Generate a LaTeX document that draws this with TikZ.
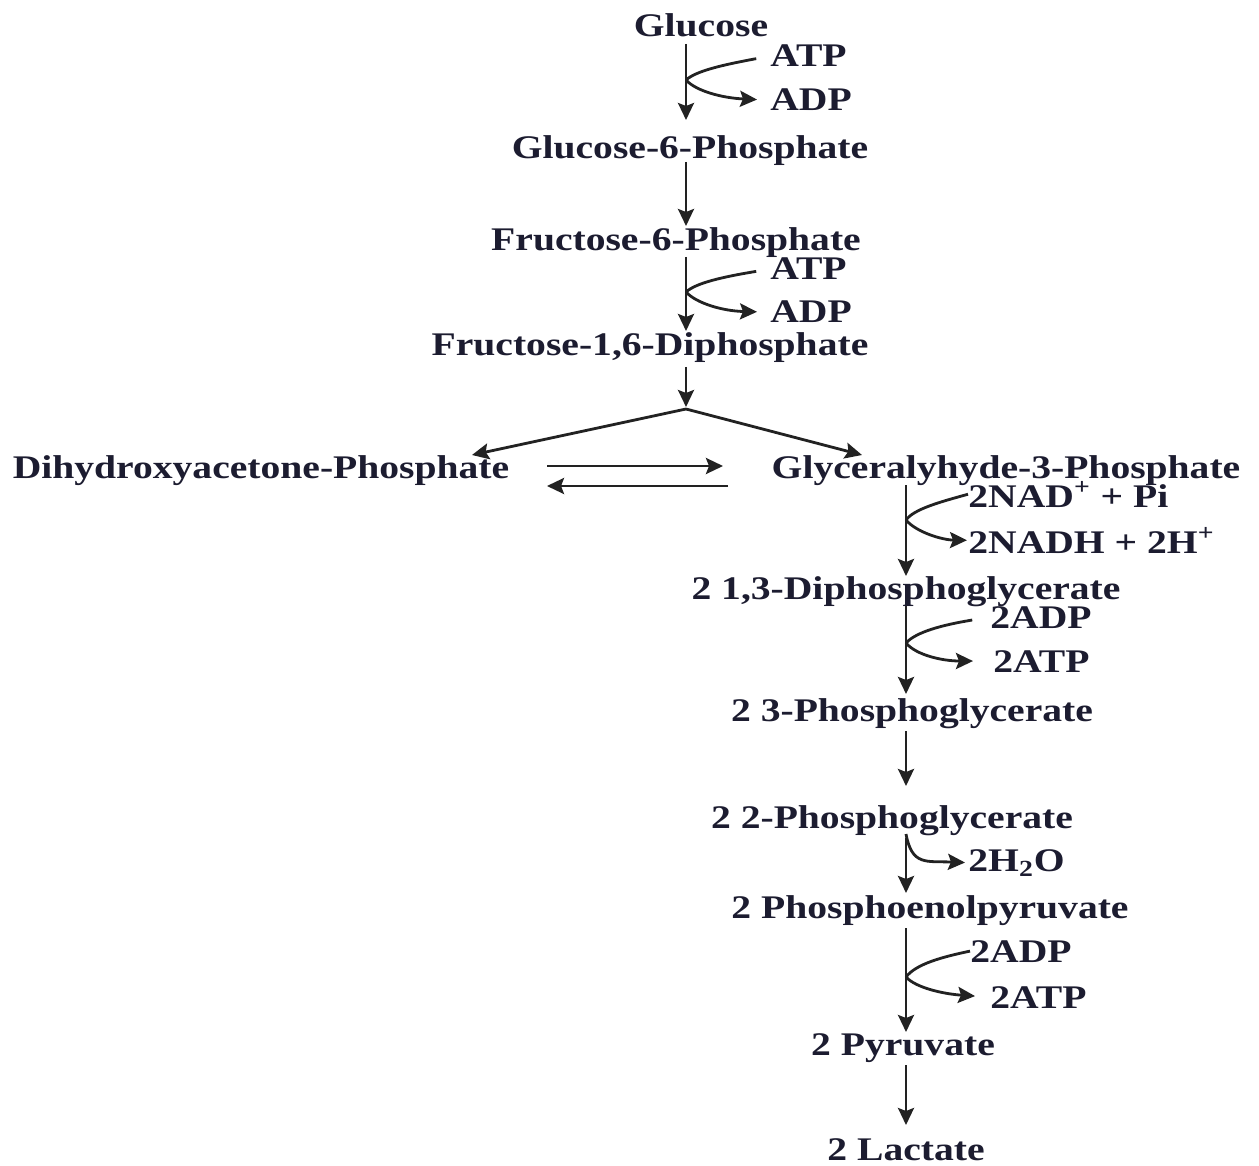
\documentclass[tikz,border=0pt]{standalone}
\usepackage{fontspec}
\setmainfont{Liberation Serif}[FakeStretch=1.2]
\usetikzlibrary{arrows.meta}
\definecolor{txt}{HTML}{1C1C30}
\definecolor{lncol}{HTML}{222222}
\begin{document}
\begin{tikzpicture}[x=0.5pt,y=-0.5pt,
  lbl/.style={font=\bfseries\fontsize{16.5}{18}\selectfont, text=txt, inner sep=0pt, anchor=base},
  side/.style={lbl, anchor=base west},
  plain/.style={draw=lncol, line width=1.4pt},
  arr/.style={plain, -{Stealth[length=8.5pt,width=8pt,inset=1.5pt]}}]
\fill[white] (0,0) rectangle (1259,1166);
\useasboundingbox (0,0) rectangle (1259,1166);

% spines
\coordinate (sp1) at (686,0);
\coordinate (sp2) at (906,0);

% nodes
\node[lbl] (glc) at (701,37) {Glucose};
\node[side] (atp1) at (770,67) {ATP};
\node[side] (adp1) at (770,111) {ADP};
\node[lbl] (g6p) at (690,159) {Glucose-6-Phosphate};
\node[lbl] (f6p) at (676,251) {Fructose-6-Phosphate};
\node[side] (atp2) at (770,280) {ATP};
\node[side] (adp2) at (770,323) {ADP};
\node[lbl] (fdp) at (650,356) {Fructose-1,6-Diphosphate};
\node[lbl] (dhap) at (261,478) {Dihydroxyacetone-Phosphate};
\node[lbl] (g3p) at (1006,478) {Glyceralyhyde-3-Phosphate};
\node[side] (nad) at (968,507) {2NAD\textsuperscript{+} + Pi};
\node[side] (nadh) at (968,553) {2NADH + 2H\textsuperscript{+}};
\node[lbl] (dpg) at (906,599) {2 1,3-Diphosphoglycerate};
\node[side] (adp3) at (990,628) {2ADP};
\node[side] (atp3) at (993,672) {2ATP};
\node[lbl] (pg3) at (912,721) {2 3-Phosphoglycerate};
\node[lbl] (pg2) at (892,828) {2 2-Phosphoglycerate};
\node[side] (h2o) at (968,871) {2H\textsubscript{2}O};
\node[lbl] (pep) at (930,918) {2 Phosphoenolpyruvate};
\node[side] (adp4) at (970,962) {2ADP};
\node[side] (atp4) at (990,1008) {2ATP};
\node[lbl] (pyr) at (903,1055) {2 Pyruvate};
\node[lbl] (lac) at (906,1160) {2 Lactate};

% junction coordinates
\coordinate (j1) at (686,80);
\coordinate (j2) at (686,292);
\coordinate (split) at (686,409);
\coordinate (j3) at (906,520);
\coordinate (j4) at (906,643);
\coordinate (j5) at (906,834);
\coordinate (j6) at (906,977);
\coordinate (tipL) at (472,455);
\coordinate (tipR) at (862,455);
\coordinate (eqA) at (547,466);
\coordinate (eqB) at (723,466);
\coordinate (eqC) at (728,486);
\coordinate (eqD) at (547,486);

% main vertical arrows
\draw[arr, shorten <=3.5pt, shorten >=19.5pt] (glc.base -| sp1) -- (g6p.base -| sp1);
\draw[arr, shorten <=1.5pt, shorten >=12.5pt] (g6p.base -| sp1) -- (f6p.base -| sp1);
\draw[arr, shorten <=3pt, shorten >=12.5pt] (f6p.base -| sp1) -- (fdp.base -| sp1);
\draw[arr, shorten <=5.5pt, shorten >=1pt] (fdp.base -| sp1) -- (split);
\draw[arr] (split) -- (tipL);
\draw[arr] (split) -- (tipR);
\draw[arr] (eqA) -- (eqB);
\draw[arr] (eqC) -- (eqD);
\draw[arr, shorten <=3.5pt, shorten >=11.5pt] (g3p.base -| sp2) -- (dpg.base -| sp2);
\draw[arr, shorten <=3.5pt, shorten >=13.5pt] (dpg.base -| sp2) -- (pg3.base -| sp2);
\draw[arr, shorten <=5pt, shorten >=21pt] (pg3.base -| sp2) -- (pg2.base -| sp2);
\draw[arr, shorten <=5pt, shorten >=12.5pt] (pg2.base -| sp2) -- (pep.base -| sp2);
\draw[arr, shorten <=5pt, shorten >=11.5pt] (pep.base -| sp2) -- (pyr.base -| sp2);
\draw[arr, shorten <=5pt, shorten >=17.5pt] (pyr.base -| sp2) -- (lac.base -| sp2);

% side branches
\draw[plain, shorten <=7pt] (atp1.west) .. controls (722,65) and (696,71) .. (j1);
\draw[arr, shorten >=6.5pt] (j1) .. controls (696,91) and (722,98) .. (adp1.west);
\draw[plain, shorten <=7pt] (atp2.west) .. controls (722,277) and (696,283) .. (j2);
\draw[arr, shorten >=6.5pt] (j2) .. controls (696,303) and (722,311) .. (adp2.west);
\draw[plain] (nad.west) .. controls (940,502) and (914,509) .. (j3);
\draw[arr, shorten >=0.5pt] (j3) .. controls (916,532) and (942,540) .. (nadh.west);
\draw[plain, shorten <=9pt] (adp3.west) .. controls (942,625) and (916,632) .. (j4);
\draw[arr, shorten >=10pt] (j4) .. controls (916,655) and (942,661) .. (atp3.west);
\draw[arr, shorten >=1.5pt] (j5) .. controls (912,866) and (926,861) .. (h2o.west);
\draw[plain] (adp4.west) .. controls (942,957) and (916,964) .. (j6);
\draw[arr, shorten >=7.5pt] (j6) .. controls (916,988) and (944,994) .. (atp4.west);
\end{tikzpicture}
\end{document}
